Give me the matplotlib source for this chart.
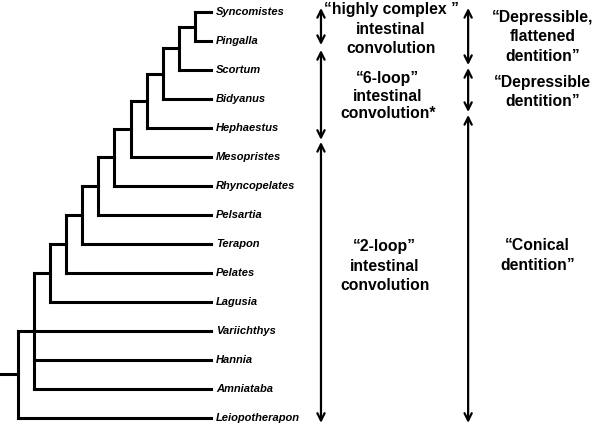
import matplotlib
matplotlib.use("Agg")
import matplotlib.pyplot as plt

# tree topology (nested clades, top to bottom)
clade = ["Syncomistes", "Pingalla"]
for taxon in ["Scortum", "Bidyanus", "Hephaestus", "Mesopristes",
              "Rhyncopelates", "Pelsartia", "Terapon", "Pelates", "Lagusia"]:
    clade = [clade, taxon]
clade = [clade, "Variichthys", "Hannia", "Amniataba"]
tree = [clade, "Leiopotherapon"]

# character ranges (in leaf-index units, top = 0)
gut_labels = ["\u201chighly complex \u201d\nintestinal\nconvolution",
              "\u201c6-loop\u201d\nintestinal\nconvolution*",
              "\u201c2-loop\u201d\nintestinal\nconvolution"]
gut_ranges = [(-0.14, 1.14), (1.31, 4.41), (4.48, 14.17)]
gut_text_y = [0.59, 2.90, 8.76]
gut_text_x = [23.2, 23.0, 22.8]
gut_spacing = [1.36, 1.22, 1.36]

teeth_labels = ["\u201cDepressible,\nflattened\ndentition\u201d",
                "\u201cDepressible\ndentition\u201d",
                "\u201cConical\ndentition\u201d"]
teeth_ranges = [(-0.14, 1.83), (1.93, 3.45), (3.55, 14.17)]
teeth_text_y = [0.86, 2.76, 8.40]
teeth_text_x = [32.6, 32.6, 32.3]
teeth_spacing = [1.36, 1.36, 1.36]

LEAF_LEVEL = 12
leaves = []

fig = plt.figure(figsize=(6, 4.29), dpi=100)
ax = fig.add_axes([0, 0, 1, 1])
lw = 2.2


def draw(node, level):
    # returns y of node
    if isinstance(node, str):
        y = len(leaves)
        leaves.append(node)
        return y
    ys = []
    for child in node:
        child_level = LEAF_LEVEL if isinstance(child, str) else level + 1
        cy = draw(child, child_level)
        ax.plot([level, child_level], [cy, cy], color="black", lw=lw,
                solid_capstyle="projecting")
        ys.append(cy)
    ax.plot([level, level], [ys[0], ys[-1]], color="black", lw=lw,
            solid_capstyle="projecting")
    return (ys[0] + ys[-1]) / 2


root_y = draw(tree, 0)
ax.plot([-1.1, 0], [root_y, root_y], color="black", lw=lw,
        solid_capstyle="projecting")

for i, name in enumerate(leaves):
    ax.text(LEAF_LEVEL + 0.3, i, name, fontsize=8, fontweight="bold",
            fontstyle="italic", family="Liberation Sans", va="center",
            ha="left")

arrow_x = [18.84, 27.99]
for col, ranges in enumerate([gut_ranges, teeth_ranges]):
    for y0, y1 in ranges:
        ax.annotate("", xy=(arrow_x[col], y0), xytext=(arrow_x[col], y1),
                    arrowprops=dict(arrowstyle="<->", lw=1.6,
                                    mutation_scale=13, color="black",
                                    shrinkA=0, shrinkB=0))

for labels, xs, ys, sp in [(gut_labels, gut_text_x, gut_text_y, gut_spacing),
                           (teeth_labels, teeth_text_x, teeth_text_y,
                            teeth_spacing)]:
    for lab, x, y, s in zip(labels, xs, ys, sp):
        ax.text(x, y, lab, fontsize=11.3, fontweight="bold",
                family="Liberation Sans", ha="center", va="center",
                multialignment="center", linespacing=s)

ax.set_xlim(-1.119, 36.19)
ax.set_ylim(14.38, -0.414)
ax.axis("off")
fig.savefig("out.png", dpi=100)
